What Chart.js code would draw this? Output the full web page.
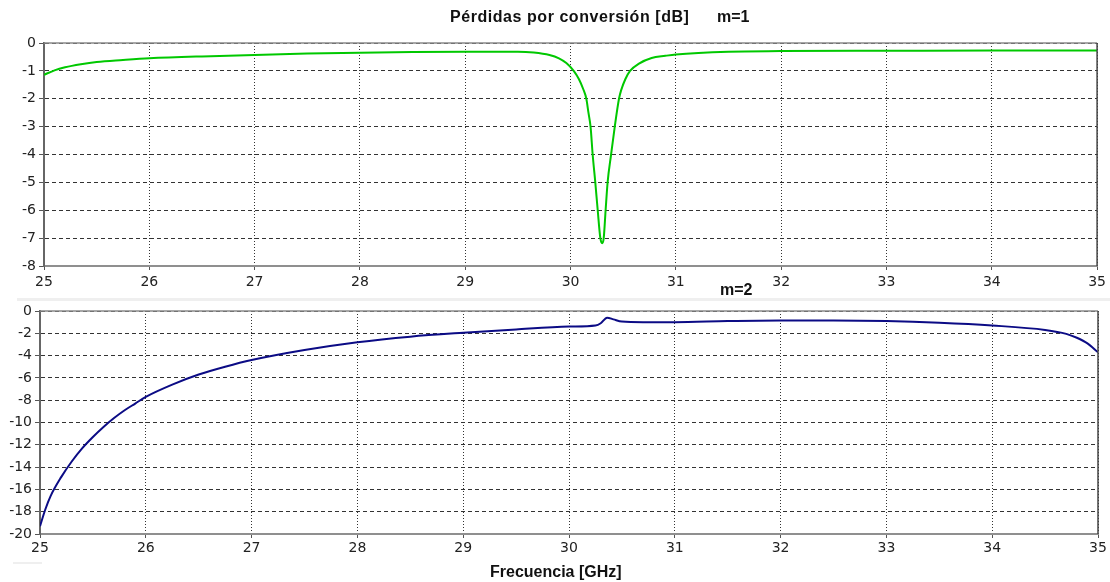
<!DOCTYPE html>
<html>
<head>
<meta charset="utf-8">
<script src="https://cdn.jsdelivr.net/npm/chart.js@4.4.0/dist/chart.umd.min.js"></script>
<style>
  body { margin: 0; background: #fff; }
  #wrap { position: relative; width: 1110px; height: 582px; overflow: hidden; }
  canvas { position: absolute; left: 0; }
  .lbl { position: absolute; font-family: "Liberation Sans", Arial, sans-serif; font-weight: bold;
         font-size: 16px; line-height: 16px; color: #111; white-space: nowrap; }
  .band { position: absolute; background: #efefef; }
</style>
</head>
<body>
<div id="wrap">
  <canvas id="top"></canvas>
  <canvas id="bot"></canvas>
  <div class="band" style="left:17px;top:298px;width:1093px;height:3px"></div>
  <div class="band" style="left:13px;top:562px;width:29px;height:2px"></div>
  <div class="lbl" style="left:450px;top:9px;letter-spacing:0.55px">Pérdidas por conversión [dB]</div>
  <div class="lbl" style="left:717px;top:9px">m=1</div>
  <div class="lbl" style="left:720px;top:282px">m=2</div>
  <div class="lbl" style="left:490px;top:564px">Frecuencia [GHz]</div>
</div>
<script>
// m=1 conversion loss (dB) vs frequency (GHz)
const freq1 = [25.0, 25.1, 25.2, 25.35, 25.5, 25.75, 26.0, 26.5, 27.0, 27.5, 28.0, 28.5, 29.0, 29.5,
               29.65, 29.8, 29.89, 29.96, 30.03, 30.08, 30.12, 30.15, 30.17, 30.19, 30.21, 30.235, 30.258, 30.283,
               30.3, 30.315, 30.333, 30.352, 30.385, 30.42, 30.46, 30.48, 30.52, 30.565, 30.65,
               30.77, 30.9, 31.0, 31.5, 32.0, 33.0, 34.0, 35.0];
const loss1 = [-1.14, -0.98, -0.87, -0.76, -0.68, -0.61, -0.55, -0.48, -0.43, -0.38, -0.35, -0.32, -0.31, -0.31,
               -0.34, -0.43, -0.55, -0.72, -1.0, -1.3, -1.65, -2.0, -2.5, -3.0, -4.0, -5.0, -6.0, -7.0,
               -7.18, -7.0, -6.0, -5.0, -4.0, -3.0, -2.0, -1.7, -1.3, -1.0, -0.74,
               -0.54, -0.46, -0.41, -0.31, -0.29, -0.28, -0.27, -0.27];

// m=2 conversion loss (dB) vs frequency (GHz)
const freq2 = [25.0, 25.05, 25.1, 25.2, 25.3, 25.4, 25.5, 25.6, 25.7, 25.8, 25.9, 26.0, 26.25, 26.5,
               26.75, 27.0, 27.5, 28.0, 28.5, 29.0, 29.5, 30.0, 30.25, 30.3, 30.36, 30.42, 30.5,
               30.7, 31.0, 31.5, 32.0, 32.5, 33.0, 33.5, 34.0, 34.5, 34.7, 34.8, 34.9, 35.0];
const loss2 = [-19.3, -17.8, -16.6, -14.9, -13.5, -12.3, -11.3, -10.4, -9.6, -8.9, -8.3, -7.7, -6.6, -5.7,
               -5.0, -4.4, -3.5, -2.8, -2.3, -1.95, -1.65, -1.4, -1.3, -1.1, -0.6, -0.75, -0.95,
               -1.0, -1.0, -0.9, -0.85, -0.85, -0.9, -1.05, -1.3, -1.7, -2.05, -2.4, -2.9, -3.7];

const xTicks = [25, 26, 27, 28, 29, 30, 31, 32, 33, 34, 35];

const tickFont = { family: "'DejaVu Sans', Verdana, sans-serif", size: 14 };

// draws the top and right edges of the plot box
const framePlugin = {
    id: 'frame',
    afterDraw(chart, args, opts) {
        const a = chart.chartArea, ctx = chart.ctx;
        ctx.save();
        ctx.strokeStyle = opts.topColor;
        ctx.lineWidth = 1.5;
        ctx.beginPath();
        ctx.moveTo(a.left, a.top);
        ctx.lineTo(a.right, a.top);
        ctx.stroke();
        ctx.strokeStyle = opts.rightColor;
        ctx.beginPath();
        ctx.moveTo(a.right, a.top);
        ctx.lineTo(a.right, a.bottom);
        ctx.stroke();
        ctx.restore();
    }
};

function makeChart(id, cfg) {
    const cv = document.getElementById(id);
    cv.width = 1110;
    cv.height = cfg.height;
    cv.style.top = cfg.top + 'px';
    return new Chart(cv, {
        type: 'line',
        data: {
            datasets: [{
                data: cfg.xs.map((x, i) => ({ x: x, y: cfg.ys[i] })),
                borderColor: cfg.color,
                borderWidth: 2,
                pointRadius: 0,
                cubicInterpolationMode: 'monotone',
                fill: false
            }]
        },
        options: {
            responsive: false,
            animation: false,
            layout: { padding: { top: cfg.padTop, right: cfg.padRight, left: 0, bottom: 0 } },
            plugins: {
                legend: { display: false },
                tooltip: { enabled: false },
                frame: { topColor: '#8a8a8a', rightColor: '#444' }
            },
            scales: {
                x: {
                    type: 'linear',
                    min: 25, max: 35,
                    afterBuildTicks: s => { s.ticks = xTicks.map(v => ({ value: v })); },
                    afterFit: s => { s.height = cfg.xHeight; },
                    ticks: { font: tickFont, color: '#222', padding: cfg.xPad, maxRotation: 0 },
                    grid: { color: '#333', lineWidth: 1, tickLength: 4, tickColor: '#555', tickBorderDash: [] },
                    border: { display: true, color: '#8f8f8f', width: 2, dash: [1, 2] }
                },
                y: {
                    min: cfg.yMin, max: 0,
                    ticks: { stepSize: cfg.yStep, font: tickFont, color: '#222', padding: 3 },
                    afterFit: s => { s.width = cfg.yWidth; },
                    grid: { color: '#333', lineWidth: 1, tickLength: 5, tickColor: '#555', tickBorderDash: [] },
                    border: { display: true, color: '#666', width: 2, dash: [4, 3] }
                }
            }
        },
        plugins: [framePlugin]
    });
}

makeChart('top', {
    top: 0, height: 296, padTop: 43, padRight: 11, xHeight: 30, yWidth: 44, xPad: 4,
    yMin: -8, yStep: 1, xs: freq1, ys: loss1, color: '#00c800'
});
makeChart('bot', {
    top: 298, height: 284, padTop: 13, padRight: 12, xHeight: 48, yWidth: 40, xPad: 2,
    yMin: -20, yStep: 2, xs: freq2, ys: loss2, color: '#0b0b85'
});
</script>
</body>
</html>
